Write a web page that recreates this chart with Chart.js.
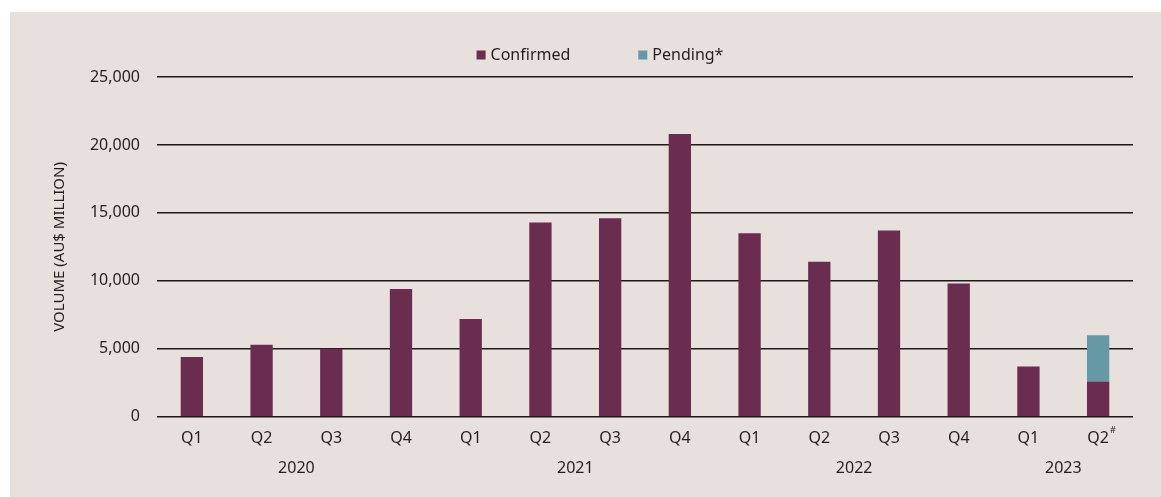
<!DOCTYPE html>
<html>
<head>
<meta charset="utf-8">
<script src="https://cdn.jsdelivr.net/npm/chart.js@4.4.0/dist/chart.umd.min.js"></script>
<style>
  html, body { margin: 0; padding: 0; background: #fff; }
  #wrap { position: absolute; left: 10px; top: 12px; width: 1151px; height: 485px; background: #e7e0dc; }
</style>
</head>
<body>
<div id="wrap"><canvas id="volChart"></canvas></div>
<script>
var quarters = ['Q1','Q2','Q3','Q4','Q1','Q2','Q3','Q4','Q1','Q2','Q3','Q4','Q1','Q2'];
var years = ['2020','2021','2022','2023'];
var yearOf = ['2020','2020','2020','2020','2021','2021','2021','2021','2022','2022','2022','2022','2023','2023'];
var confirmed = [4400, 5300, 5000, 9400, 7200, 14300, 14600, 20800, 13500, 11400, 13700, 9800, 3700, 2600];
var pending = [null, null, null, null, null, null, null, null, null, null, null, null, null, 3400];

var textColor = '#231f20';
var fontFamily = '"Noto Sans", "Open Sans", sans-serif';

// year labels under the quarter ticks, the # mark on the last quarter, and the legend
var yearPlugin = {
    id: 'years',
    afterDraw: function(chart) {
        var ctx = chart.ctx;
        var x = chart.scales.x;
        var y0 = chart.chartArea.bottom;
        ctx.save();
        ctx.fillStyle = textColor;
        ctx.font = '16px ' + fontFamily;
        ctx.textAlign = 'center';
        ctx.textBaseline = 'middle';
        years.forEach(function(yr) {
            var first = yearOf.indexOf(yr), last = yearOf.lastIndexOf(yr);
            var cx = (x.getPixelForValue(first) + x.getPixelForValue(last)) / 2;
            ctx.fillText(yr, cx, y0 + 52);
        });
        var lastIdx = quarters.length - 1;
        var w = ctx.measureText(quarters[lastIdx]).width;
        ctx.font = '9px ' + fontFamily;
        ctx.textAlign = 'left';
        ctx.fillText('#', x.getPixelForValue(lastIdx) + w / 2 + 1, y0 + 14);

        // legend
        ctx.font = '16px ' + fontFamily;
        var items = chart.data.datasets.map(function(d) {
            return { text: d.label, color: d.backgroundColor, w: 14 + ctx.measureText(d.label).width };
        });
        var gap = 68;
        var total = items.reduce(function(s, it) { return s + it.w; }, 0) + gap * (items.length - 1);
        var lx = 590 - total / 2, ly = 43;
        items.forEach(function(it) {
            ctx.fillStyle = it.color;
            ctx.fillRect(lx, ly - 4.5, 9, 9);
            ctx.fillStyle = textColor;
            ctx.fillText(it.text, lx + 14, ly);
            lx += it.w + gap;
        });
        ctx.restore();
    }
};

new Chart(document.getElementById('volChart').getContext('2d'), {
    type: 'bar',
    data: {
        labels: quarters,
        datasets: [{
            label: 'Confirmed',
            backgroundColor: '#6a2d4f',
            data: confirmed,
            barPercentage: 0.32,
            categoryPercentage: 1
        }, {
            label: 'Pending*',
            backgroundColor: '#6499a5',
            data: pending,
            barPercentage: 0.32,
            categoryPercentage: 1
        }]
    },
    options: {
        responsive: true,
        maintainAspectRatio: false,
        animation: false,
        layout: { padding: { top: 65, bottom: 45, left: 0, right: 28 } },
        plugins: {
            legend: { display: false },
            tooltip: { enabled: false }
        },
        scales: {
            x: {
                stacked: true,
                grid: { display: false },
                border: { display: false },
                ticks: { color: textColor, font: { family: fontFamily, size: 16 }, padding: 4, maxRotation: 0 }
            },
            y: {
                stacked: true,
                min: 0,
                max: 25000,
                afterFit: function(scale) { scale.width = 147; },
                grid: { color: '#1a1a1a', lineWidth: 1.5, drawTicks: false },
                border: { display: false },
                ticks: {
                    stepSize: 5000,
                    color: textColor,
                    padding: 17,
                    font: { family: fontFamily, size: 16 },
                    callback: function(v) { return v.toLocaleString('en-US'); }
                },
                title: {
                    display: true,
                    text: 'VOLUME (AU$ MILLION)',
                    color: textColor,
                    font: { family: fontFamily, size: 15 },
                    padding: { top: 41, bottom: 0 }
                }
            }
        }
    },
    plugins: [yearPlugin]
});
</script>
</body>
</html>
